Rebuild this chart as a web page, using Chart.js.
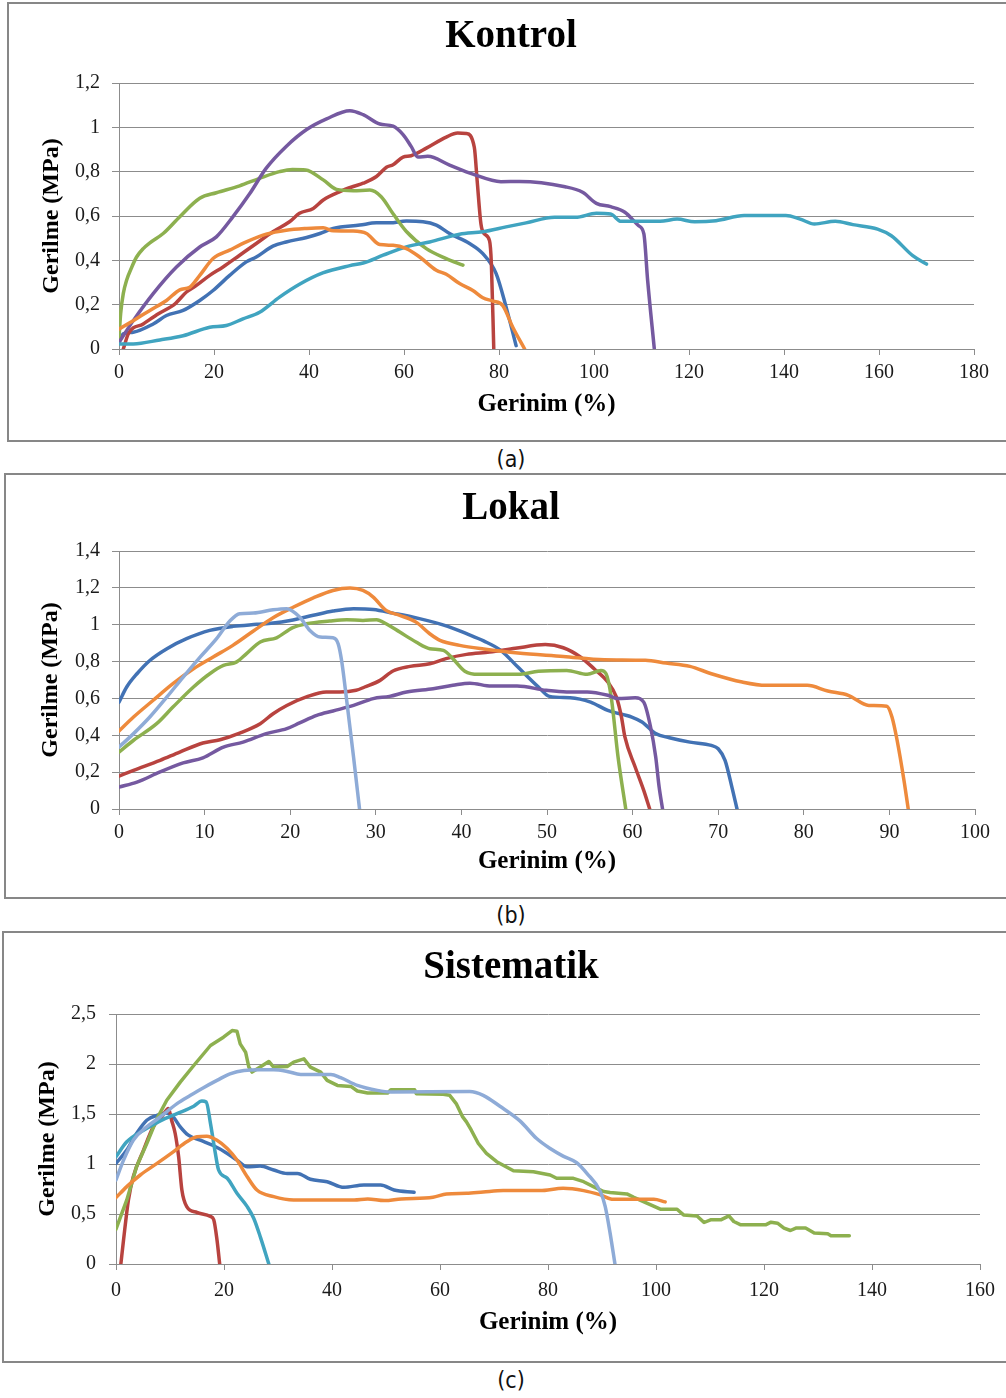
<!DOCTYPE html>
<html><head><meta charset="utf-8">
<script src="https://cdn.jsdelivr.net/npm/chart.js@4.4.1/dist/chart.umd.min.js"></script>
<style>
body{margin:0;background:#fff;width:1006px;height:1398px;position:relative;overflow:hidden}
.panel{position:absolute;border:2px solid #878787;border-right:none;box-sizing:border-box}
canvas{position:absolute;left:0}
.cap{position:absolute;left:0;width:1022px;text-align:center;font-family:'DejaVu Sans Condensed','DejaVu Sans','Liberation Sans',sans-serif;font-size:23px;line-height:26px;color:#111}
</style></head><body>
<div class="panel" style="left:7px;top:2px;width:1010px;height:440px"></div>
<div class="panel" style="left:4px;top:473px;width:1010px;height:426px"></div>
<div class="panel" style="left:2px;top:931px;width:1010px;height:432px"></div>
<canvas id="ca" width="1006" height="441" style="top:0"></canvas>
<canvas id="cb" width="1006" height="425" style="top:473px"></canvas>
<canvas id="cc" width="1006" height="431" style="top:931px"></canvas>
<div class="cap" style="top:446px">(a)</div>
<div class="cap" style="top:902px">(b)</div>
<div class="cap" style="top:1367px">(c)</div>
<script>
// ---------- titles & tick labels ----------
const titleA = 'Kontrol', titleB = 'Lokal', titleC = 'Sistematik';
const xTitle = 'Gerinim (%)', yTitle = 'Gerilme (MPa)';
const xLabelsA = ['0','20','40','60','80','100','120','140','160','180'];
const yLabelsA = ['0','0,2','0,4','0,6','0,8','1','1,2'];
const xLabelsB = ['0','10','20','30','40','50','60','70','80','90','100'];
const yLabelsB = ['0','0,2','0,4','0,6','0,8','1','1,2','1,4'];
const xLabelsC = ['0','20','40','60','80','100','120','140','160'];
const yLabelsC = ['0','0,5','1','1,5','2','2,5'];

// ---------- (a) Kontrol : [strain %, stress MPa] ----------
const kBlue = [[0,0.03],[0.9,0.068],[3,0.076],[7.2,0.113],[10,0.151],[13.5,0.174],[17,0.219],[19.8,0.264],[23.3,0.332],[26.8,0.393],[28.9,0.415],[32.4,0.464],[35.2,0.483],[39.5,0.503],[42.3,0.521],[45.1,0.544],[50.7,0.559],[54.2,0.569],[57,0.569],[60.5,0.577],[64,0.574],[66.8,0.559],[69.6,0.521],[73.8,0.476],[76.6,0.43],[79.4,0.34],[81.5,0.189],[83.6,0.015]];
const kRed = [[0.9,0],[2,0.07],[5.1,0.113],[8.3,0.159],[11.8,0.204],[14.2,0.257],[16.3,0.287],[19.1,0.332],[21.9,0.37],[25.4,0.423],[28.9,0.476],[32.4,0.529],[35.9,0.574],[38,0.612],[40.9,0.634],[43,0.672],[46.5,0.71],[49.3,0.733],[51.4,0.748],[54.2,0.778],[56.3,0.82],[57.7,0.831],[59.8,0.866],[61.5,0.872],[64.7,0.906],[68.9,0.956],[71.3,0.974],[73.1,0.972],[74.8,0.91],[75.4,0.76],[76.2,0.564],[76.9,0.519],[78,0.489],[78.4,0.383],[78.9,0]];
const kGreen = [[0,0.05],[0.35,0.16],[0.9,0.25],[1.6,0.31],[2.7,0.37],[3.7,0.415],[5.1,0.453],[6.5,0.479],[9.3,0.521],[12.8,0.597],[17,0.68],[20.5,0.705],[25.4,0.736],[29.6,0.77],[33.8,0.8],[36.5,0.81],[39.3,0.808],[43,0.763],[45.8,0.72],[49.3,0.714],[52.8,0.717],[55.2,0.687],[57.7,0.61],[60.5,0.53],[64.7,0.453],[68.9,0.408],[72.4,0.378]];
const kPurple = [[0,0.03],[3,0.128],[7.2,0.25],[12.1,0.37],[17,0.46],[20.5,0.506],[24,0.597],[27.5,0.7],[31,0.816],[35.2,0.914],[39.5,0.99],[43.7,1.038],[48.6,1.075],[51.4,1.057],[54.9,1.015],[57.7,1.005],[59.8,0.967],[61.5,0.914],[62.9,0.866],[65,0.869],[69.6,0.83],[74.5,0.789],[80.4,0.755],[84.3,0.756],[93.9,0.732],[97.6,0.707],[100.5,0.657],[103.5,0.642],[106.5,0.617],[109.4,0.556],[110.5,0.519],[111.3,0.308],[112.7,0]];
const kTeal = [[0,0.023],[3,0.023],[8.6,0.041],[13.5,0.06],[19.1,0.098],[22.6,0.106],[26.1,0.136],[29.6,0.166],[33.8,0.234],[38,0.292],[42.9,0.343],[48.6,0.376],[51.4,0.388],[55.6,0.423],[60.5,0.461],[65.4,0.483],[71.7,0.518],[76.6,0.529],[81.5,0.551],[85.7,0.569],[91.7,0.594],[96.1,0.594],[100.5,0.612],[103.5,0.609],[105.7,0.576],[113.9,0.576],[117.5,0.586],[121.2,0.574],[125.7,0.579],[131.6,0.602],[140.4,0.602],[143.4,0.586],[146.4,0.564],[150.8,0.576],[154.5,0.561],[159.7,0.541],[162.6,0.511],[167.1,0.421],[170,0.383]];
const kOrange = [[0,0.09],[3,0.128],[6.5,0.174],[10,0.219],[12.8,0.267],[14.9,0.279],[17,0.332],[19.8,0.408],[23.3,0.446],[26.8,0.483],[31,0.518],[35.2,0.536],[39.5,0.544],[43,0.547],[45.1,0.533],[49.3,0.532],[52.1,0.521],[54.9,0.471],[57.7,0.468],[60.5,0.453],[63.3,0.415],[66.8,0.355],[68.9,0.337],[71.7,0.295],[74.5,0.264],[76.6,0.231],[78.7,0.216],[80.8,0.196],[82.9,0.098],[85.4,0]];

// ---------- (b) Lokal ----------
const lBlue = [[0,0.58],[0.9,0.662],[2.1,0.734],[3.6,0.806],[5.6,0.87],[7.9,0.924],[10.6,0.969],[13.3,0.991],[16.1,1.002],[18,1.009],[20,1.023],[22.7,1.051],[25,1.074],[27.4,1.087],[29.7,1.083],[32,1.063],[35.1,1.033],[38.4,0.991],[40.6,0.951],[42.6,0.912],[44.6,0.861],[46.6,0.77],[49,0.662],[50.3,0.611],[52.7,0.604],[55.1,0.58],[57.1,0.535],[59.9,0.499],[61.1,0.472],[62.7,0.409],[64.3,0.387],[66.7,0.363],[69.2,0.345],[70,0.327],[70.8,0.264],[71.6,0.119],[72.2,0]];
const lRed = [[0,0.179],[1.7,0.21],[4.8,0.264],[7.1,0.309],[9.8,0.358],[11.8,0.376],[14.1,0.412],[16.5,0.463],[18,0.517],[19.6,0.562],[21.9,0.608],[24.2,0.635],[25.8,0.635],[27.7,0.644],[28.7,0.662],[30.5,0.698],[32,0.749],[34,0.774],[36.3,0.788],[38.2,0.816],[40.6,0.839],[43.3,0.852],[46.3,0.872],[49.8,0.892],[51.9,0.875],[53.9,0.825],[55.5,0.761],[57.1,0.689],[58.1,0.608],[58.7,0.499],[59.1,0.391],[60.3,0.228],[61.3,0.101],[62,0]];
const lGreen = [[0,0.309],[1.7,0.373],[4.4,0.463],[6.3,0.553],[8.7,0.662],[10.6,0.734],[12.2,0.779],[13.7,0.797],[14.9,0.843],[16.5,0.906],[18.4,0.929],[20.3,0.984],[21.9,1.005],[24.6,1.02],[26.6,1.027],[28.5,1.023],[30.1,1.027],[31.2,1.005],[32.8,0.96],[34.7,0.906],[36.3,0.87],[37.9,0.861],[39,0.816],[40.4,0.748],[42,0.731],[46.6,0.731],[49,0.747],[52.3,0.752],[54.7,0.731],[56.3,0.752],[56.9,0.734],[57.5,0.608],[58.3,0.282],[59.2,0]];
const lPurple = [[0,0.119],[2.1,0.146],[4.8,0.201],[7.5,0.25],[9.8,0.278],[12.2,0.336],[14.5,0.363],[17.2,0.409],[19.6,0.436],[21.1,0.467],[23.1,0.508],[25,0.532],[27.4,0.562],[29.7,0.599],[31.6,0.611],[33.6,0.635],[36.7,0.653],[39,0.671],[41,0.683],[43.5,0.667],[46.5,0.667],[49.9,0.644],[52.3,0.635],[54.7,0.635],[57.1,0.617],[58.3,0.599],[60.3,0.604],[61.3,0.58],[62.1,0.445],[62.7,0.282],[63.1,0.119],[63.5,0]];
const lOrange = [[0,0.423],[1.7,0.499],[4,0.59],[6.3,0.68],[8.7,0.761],[11,0.825],[13.3,0.888],[15.7,0.966],[18,1.038],[20.4,1.096],[22.7,1.146],[25,1.186],[27,1.199],[28.5,1.186],[29.7,1.15],[31.2,1.078],[32.8,1.051],[34.7,1.014],[36.3,0.951],[37.5,0.915],[39.8,0.888],[42.6,0.868],[46.6,0.846],[51.9,0.828],[56.7,0.81],[61.5,0.807],[63.9,0.792],[66.7,0.774],[69.2,0.734],[72.8,0.689],[75.6,0.671],[80.4,0.671],[82.8,0.64],[85.2,0.617],[87.6,0.562],[89.7,0.557],[90.3,0.499],[90.9,0.373],[91.7,0.156],[92.2,0]];
const lLight = [[0,0.336],[1.7,0.409],[3.6,0.499],[5.6,0.608],[7.5,0.716],[9.5,0.825],[11.4,0.924],[13,1.023],[14.1,1.06],[15.7,1.063],[18,1.081],[19.6,1.087],[21.1,1.042],[22.3,0.969],[23.5,0.933],[25,0.929],[25.6,0.897],[26,0.807],[26.6,0.589],[27.4,0.282],[28.1,0]];

// ---------- (c) Sistematik ----------
const sBlue = [[0,1.006],[2,1.139],[3.8,1.305],[5.7,1.438],[7.6,1.487],[9.4,1.511],[10.6,1.471],[11.9,1.371],[13.4,1.288],[15.6,1.238],[18.1,1.182],[20.6,1.106],[22.4,1.039],[24.3,0.973],[26.7,0.979],[29.2,0.94],[31.7,0.906],[33.6,0.906],[36,0.847],[39.1,0.823],[42.2,0.767],[45.9,0.79],[49,0.79],[51.5,0.74],[55.2,0.717]];
const sRed = [[0.9,0],[1.4,0.242],[2.3,0.641],[3.2,0.873],[5.1,1.139],[6.9,1.371],[8.5,1.471],[9.7,1.554],[10.3,1.438],[10.96,1.305],[11.6,1.072],[12.2,0.74],[13.1,0.574],[15,0.515],[17.5,0.475],[18.1,0.442],[18.7,0.242],[19.2,0]];
const sGreen = [[0,0.349],[2,0.641],[3.8,0.973],[5.7,1.205],[7.6,1.454],[9.4,1.637],[11.9,1.819],[14.4,1.985],[17.5,2.185],[19.9,2.268],[21.5,2.334],[22.4,2.327],[23,2.201],[24,2.118],[24.6,1.969],[25.2,1.919],[26.7,1.969],[28.3,2.025],[29.2,1.969],[31.7,1.975],[32.9,2.019],[34.8,2.052],[36,1.969],[37.9,1.919],[39.1,1.836],[41,1.786],[43.5,1.776],[44.7,1.73],[46.6,1.71],[50.3,1.71],[50.9,1.743],[55.3,1.743],[55.6,1.703],[60.6,1.697],[61.8,1.687],[63,1.604],[64.2,1.471],[64.9,1.421],[65.8,1.338],[67.1,1.205],[68.6,1.106],[70.5,1.023],[73.6,0.933],[77.3,0.923],[80.4,0.89],[81.6,0.857],[84.7,0.857],[86.6,0.823],[88.4,0.774],[90.3,0.724],[91.5,0.714],[94.6,0.701],[95.9,0.667],[98.3,0.608],[100.8,0.548],[103.9,0.548],[105.1,0.491],[107.6,0.481],[108.9,0.415],[110.1,0.442],[112,0.442],[113.5,0.481],[114.4,0.425],[115.7,0.392],[120.3,0.392],[121.3,0.418],[122.5,0.408],[123.7,0.359],[124.9,0.335],[125.9,0.359],[127.7,0.359],[129.3,0.309],[131.8,0.302],[132.4,0.282],[135.8,0.282]];
const sTeal = [[0,1.072],[2,1.222],[5.1,1.338],[8.2,1.431],[11.3,1.504],[14.4,1.577],[15.9,1.63],[16.7,1.62],[17.5,1.404],[18.4,1.106],[19,0.94],[20.6,0.857],[22.4,0.707],[24.3,0.574],[25.5,0.458],[26.8,0.259],[28.3,0]];
const sOrange = [[0,0.664],[2,0.774],[4.5,0.89],[7.6,1.006],[10.6,1.122],[13.1,1.222],[15,1.272],[16.8,1.278],[18.7,1.238],[20.6,1.155],[22.4,1.039],[24.3,0.873],[26.1,0.74],[29.2,0.674],[32.9,0.641],[44.1,0.641],[46.6,0.651],[49.7,0.634],[52.8,0.651],[58.7,0.667],[61.2,0.7],[64.9,0.707],[68,0.72],[71.7,0.734],[78.5,0.734],[82.8,0.757],[86.6,0.734],[89.7,0.691],[92.1,0.647],[99.6,0.647],[101.7,0.621]];
const sLight = [[0,0.84],[1.4,1.039],[3.2,1.238],[5.7,1.371],[8.2,1.471],[11.3,1.604],[13.8,1.687],[16.2,1.763],[18.7,1.836],[21.1,1.902],[23.7,1.936],[26.7,1.942],[29.2,1.942],[31.7,1.926],[34.2,1.896],[39.8,1.896],[41.6,1.863],[44.7,1.786],[48.4,1.736],[50.9,1.72],[65.5,1.725],[68,1.687],[71.1,1.577],[74.8,1.431],[77.9,1.255],[80.4,1.155],[82.8,1.079],[85.3,1.013],[87.2,0.906],[89.7,0.724],[90.6,0.574],[91.5,0.309],[92.4,0]];

// ---------- styling ----------
const C = {blue:'#4272B4', red:'#B8433F', green:'#8DB04F', purple:'#7559A0', teal:'#40A4C0', orange:'#EE8A3C', light:'#8EABD7'};
const SERIF = "'Liberation Serif','Times New Roman',serif";
const GRID = '#8c8c8c';

function build(id, o) {
  const datasets = o.series.map(s => ({
    data: s.d.map(p => ({x: p[0], y: p[1]})),
    borderColor: s.c, backgroundColor: s.c, borderWidth: 3.5, pointRadius: 0, fill: false,
    cubicInterpolationMode: s.straight ? 'default' : 'monotone', tension: 0,
    borderJoinStyle: 'round', borderCapStyle: 'round'
  }));
  new Chart(document.getElementById(id), {
    type: 'line',
    data: {datasets},
    options: {
      responsive: false, animation: false, devicePixelRatio: 1,
      layout: {padding: {left: o.padL, right: o.padR, top: 0, bottom: o.padB}},
      plugins: {
        legend: {display: false}, tooltip: {enabled: false},
        title: {display: true, text: o.title, color: '#000',
          font: {family: SERIF, size: 39, weight: 'bold', lineHeight: 1.2},
          padding: {top: o.tT, bottom: o.tB}}
      },
      scales: {
        x: {
          type: 'linear', min: 0, max: o.xMax,
          afterFit: s => { s.height = o.xH; },
          ticks: {stepSize: o.xStep, autoSkip: false, maxRotation: 0, color: '#1a1a1a',
            font: {family: SERIF, size: 20}, padding: o.xTP,
            callback: v => o.xLabels[Math.round(v / o.xStep)]},
          grid: {drawOnChartArea: false, drawTicks: true, tickLength: 6, color: GRID, lineWidth: 1},
          border: {display: true, color: GRID, width: 1},
          title: {display: true, text: xTitle, color: '#000',
            font: {family: SERIF, size: 25, weight: 'bold', lineHeight: 1.2},
            padding: {top: 0, bottom: o.xTB}}
        },
        y: {
          type: 'linear', min: 0, max: o.yMax,
          afterFit: s => { s.width = o.yW; },
          ticks: {stepSize: o.yStep, color: '#1a1a1a', font: {family: SERIF, size: 20}, padding: o.yTP,
            callback: v => o.yLabels[Math.round(v / o.yStep)]},
          grid: {drawTicks: true, tickLength: 7, color: GRID, lineWidth: 1},
          border: {display: true, color: GRID, width: 1},
          title: {display: true, text: yTitle, color: '#000',
            font: {family: SERIF, size: 24, weight: 'bold', lineHeight: 1.2},
            padding: {top: o.yTT, bottom: 0}}
        }
      }
    }
  });
}

build('ca', {
  title: titleA, xLabels: xLabelsA, yLabels: yLabelsA, xMax: 180, xStep: 20, yMax: 1.2, yStep: 0.2,
  padL: 48, padR: 32, padB: 21, tT: 13.6, tB: 22.6, xH: 71, xTP: 6, xTB: 0, yW: 71, yTP: 12, yTT: -10.4,
  series: [{d: kOrange, c: C.orange}, {d: kTeal, c: C.teal}, {d: kPurple, c: C.purple},
           {d: kGreen, c: C.green}, {d: kRed, c: C.red}, {d: kBlue, c: C.blue}]
});
build('cb', {
  title: titleB, xLabels: xLabelsB, yLabels: yLabelsB, xMax: 100, xStep: 10, yMax: 1.4, yStep: 0.2,
  padL: 47, padR: 31, padB: 21, tT: 12.1, tB: 19.1, xH: 68, xTP: 6, xTB: 0.3, yW: 72, yTP: 12, yTT: -10.4,
  series: [{d: lLight, c: C.light}, {d: lOrange, c: C.orange}, {d: lPurple, c: C.purple},
           {d: lGreen, c: C.green}, {d: lRed, c: C.red}, {d: lBlue, c: C.blue}]
});
build('cc', {
  title: titleC, xLabels: xLabelsC, yLabels: yLabelsC, xMax: 160, xStep: 20, yMax: 2.5, yStep: 0.5,
  padL: 42, padR: 26, padB: 24, tT: 13.6, tB: 22.6, xH: 74, xTP: 9, xTB: 0, yW: 74, yTP: 13, yTT: -8.4,
  series: [{d: sLight, c: C.light}, {d: sOrange, c: C.orange}, {d: sTeal, c: C.teal},
           {d: sGreen, c: C.green, straight: true}, {d: sRed, c: C.red}, {d: sBlue, c: C.blue}]
});
</script>
</body></html>
